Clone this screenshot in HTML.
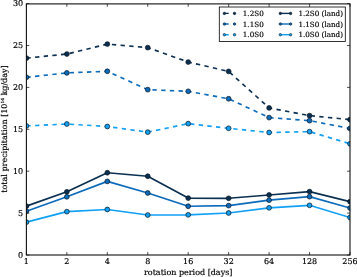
<!DOCTYPE html>
<html><head><meta charset="utf-8"><title>total precipitation vs rotation period</title>
<style>
html,body{margin:0;padding:0;background:#fff;}
body{width:357px;height:277px;overflow:hidden;}
svg{display:block;will-change:transform;opacity:0.999;}
text{font-family:"DejaVu Serif","Liberation Serif",serif;font-size:8.0px;fill:#000;stroke:#000;stroke-width:0.17px;text-rendering:geometricPrecision;}
</style></head><body>
<svg width="357" height="277" viewBox="0 0 357 277">
<rect width="357" height="277" fill="#fff"/>
<defs><clipPath id="ax"><rect x="26.4" y="3.6" width="323.6" height="251.4"/></clipPath></defs>

<g clip-path="url(#ax)">
<polyline points="26.40,58.14 66.85,54.03 107.30,44.10 147.75,47.63 188.20,62.05 228.65,71.40 269.10,107.92 309.55,115.64 350.00,119.62" fill="none" stroke="#0b3052" stroke-width="1.65" stroke-dasharray="4.345 4.345" stroke-linejoin="round"/>
<circle cx="26.40" cy="58.14" r="2.4" fill="#0b3052" stroke="#06121f" stroke-width="0.7"/>
<circle cx="66.85" cy="54.03" r="2.4" fill="#0b3052" stroke="#06121f" stroke-width="0.7"/>
<circle cx="107.30" cy="44.10" r="2.4" fill="#0b3052" stroke="#06121f" stroke-width="0.7"/>
<circle cx="147.75" cy="47.63" r="2.4" fill="#0b3052" stroke="#06121f" stroke-width="0.7"/>
<circle cx="188.20" cy="62.05" r="2.4" fill="#0b3052" stroke="#06121f" stroke-width="0.7"/>
<circle cx="228.65" cy="71.40" r="2.4" fill="#0b3052" stroke="#06121f" stroke-width="0.7"/>
<circle cx="269.10" cy="107.92" r="2.4" fill="#0b3052" stroke="#06121f" stroke-width="0.7"/>
<circle cx="309.55" cy="115.64" r="2.4" fill="#0b3052" stroke="#06121f" stroke-width="0.7"/>
<circle cx="350.00" cy="119.62" r="2.4" fill="#0b3052" stroke="#06121f" stroke-width="0.7"/>
<polyline points="26.40,77.32 66.85,72.91 107.30,71.27 147.75,89.65 188.20,91.32 228.65,98.77 269.10,117.61 309.55,120.65 350.00,128.46" fill="none" stroke="#0c6bbb" stroke-width="1.65" stroke-dasharray="4.345 4.345" stroke-linejoin="round"/>
<circle cx="26.40" cy="77.32" r="2.4" fill="#0c6bbb" stroke="#06121f" stroke-width="0.7"/>
<circle cx="66.85" cy="72.91" r="2.4" fill="#0c6bbb" stroke="#06121f" stroke-width="0.7"/>
<circle cx="107.30" cy="71.27" r="2.4" fill="#0c6bbb" stroke="#06121f" stroke-width="0.7"/>
<circle cx="147.75" cy="89.65" r="2.4" fill="#0c6bbb" stroke="#06121f" stroke-width="0.7"/>
<circle cx="188.20" cy="91.32" r="2.4" fill="#0c6bbb" stroke="#06121f" stroke-width="0.7"/>
<circle cx="228.65" cy="98.77" r="2.4" fill="#0c6bbb" stroke="#06121f" stroke-width="0.7"/>
<circle cx="269.10" cy="117.61" r="2.4" fill="#0c6bbb" stroke="#06121f" stroke-width="0.7"/>
<circle cx="309.55" cy="120.65" r="2.4" fill="#0c6bbb" stroke="#06121f" stroke-width="0.7"/>
<circle cx="350.00" cy="128.46" r="2.4" fill="#0c6bbb" stroke="#06121f" stroke-width="0.7"/>
<polyline points="26.40,125.96 66.85,124.02 107.30,126.50 147.75,132.15 188.20,123.64 228.65,128.31 269.10,132.48 309.55,131.65 350.00,143.81" fill="none" stroke="#12a0f5" stroke-width="1.65" stroke-dasharray="4.345 4.345" stroke-linejoin="round"/>
<circle cx="26.40" cy="125.96" r="2.4" fill="#12a0f5" stroke="#06121f" stroke-width="0.7"/>
<circle cx="66.85" cy="124.02" r="2.4" fill="#12a0f5" stroke="#06121f" stroke-width="0.7"/>
<circle cx="107.30" cy="126.50" r="2.4" fill="#12a0f5" stroke="#06121f" stroke-width="0.7"/>
<circle cx="147.75" cy="132.15" r="2.4" fill="#12a0f5" stroke="#06121f" stroke-width="0.7"/>
<circle cx="188.20" cy="123.64" r="2.4" fill="#12a0f5" stroke="#06121f" stroke-width="0.7"/>
<circle cx="228.65" cy="128.31" r="2.4" fill="#12a0f5" stroke="#06121f" stroke-width="0.7"/>
<circle cx="269.10" cy="132.48" r="2.4" fill="#12a0f5" stroke="#06121f" stroke-width="0.7"/>
<circle cx="309.55" cy="131.65" r="2.4" fill="#12a0f5" stroke="#06121f" stroke-width="0.7"/>
<circle cx="350.00" cy="143.81" r="2.4" fill="#12a0f5" stroke="#06121f" stroke-width="0.7"/>
<polyline points="26.40,206.15 66.85,191.80 107.30,172.74 147.75,176.23 188.20,198.10 228.65,198.30 269.10,194.96 309.55,191.62 350.00,201.68" fill="none" stroke="#0b3052" stroke-width="1.65" stroke-linejoin="round"/>
<circle cx="26.40" cy="206.15" r="2.4" fill="#0b3052" stroke="#06121f" stroke-width="0.7"/>
<circle cx="66.85" cy="191.80" r="2.4" fill="#0b3052" stroke="#06121f" stroke-width="0.7"/>
<circle cx="107.30" cy="172.74" r="2.4" fill="#0b3052" stroke="#06121f" stroke-width="0.7"/>
<circle cx="147.75" cy="176.23" r="2.4" fill="#0b3052" stroke="#06121f" stroke-width="0.7"/>
<circle cx="188.20" cy="198.10" r="2.4" fill="#0b3052" stroke="#06121f" stroke-width="0.7"/>
<circle cx="228.65" cy="198.30" r="2.4" fill="#0b3052" stroke="#06121f" stroke-width="0.7"/>
<circle cx="269.10" cy="194.96" r="2.4" fill="#0b3052" stroke="#06121f" stroke-width="0.7"/>
<circle cx="309.55" cy="191.62" r="2.4" fill="#0b3052" stroke="#06121f" stroke-width="0.7"/>
<circle cx="350.00" cy="201.68" r="2.4" fill="#0b3052" stroke="#06121f" stroke-width="0.7"/>
<polyline points="26.40,211.16 66.85,196.81 107.30,181.39 147.75,192.99 188.20,206.25 228.65,205.62 269.10,200.16 309.55,196.66 350.00,208.03" fill="none" stroke="#0c6bbb" stroke-width="1.65" stroke-linejoin="round"/>
<circle cx="26.40" cy="211.16" r="2.4" fill="#0c6bbb" stroke="#06121f" stroke-width="0.7"/>
<circle cx="66.85" cy="196.81" r="2.4" fill="#0c6bbb" stroke="#06121f" stroke-width="0.7"/>
<circle cx="107.30" cy="181.39" r="2.4" fill="#0c6bbb" stroke="#06121f" stroke-width="0.7"/>
<circle cx="147.75" cy="192.99" r="2.4" fill="#0c6bbb" stroke="#06121f" stroke-width="0.7"/>
<circle cx="188.20" cy="206.25" r="2.4" fill="#0c6bbb" stroke="#06121f" stroke-width="0.7"/>
<circle cx="228.65" cy="205.62" r="2.4" fill="#0c6bbb" stroke="#06121f" stroke-width="0.7"/>
<circle cx="269.10" cy="200.16" r="2.4" fill="#0c6bbb" stroke="#06121f" stroke-width="0.7"/>
<circle cx="309.55" cy="196.66" r="2.4" fill="#0c6bbb" stroke="#06121f" stroke-width="0.7"/>
<circle cx="350.00" cy="208.03" r="2.4" fill="#0c6bbb" stroke="#06121f" stroke-width="0.7"/>
<polyline points="26.40,222.17 66.85,211.66 107.30,209.49 147.75,215.04 188.20,214.84 228.65,212.98 269.10,207.82 309.55,205.32 350.00,217.51" fill="none" stroke="#12a0f5" stroke-width="1.65" stroke-linejoin="round"/>
<circle cx="26.40" cy="222.17" r="2.4" fill="#12a0f5" stroke="#06121f" stroke-width="0.7"/>
<circle cx="66.85" cy="211.66" r="2.4" fill="#12a0f5" stroke="#06121f" stroke-width="0.7"/>
<circle cx="107.30" cy="209.49" r="2.4" fill="#12a0f5" stroke="#06121f" stroke-width="0.7"/>
<circle cx="147.75" cy="215.04" r="2.4" fill="#12a0f5" stroke="#06121f" stroke-width="0.7"/>
<circle cx="188.20" cy="214.84" r="2.4" fill="#12a0f5" stroke="#06121f" stroke-width="0.7"/>
<circle cx="228.65" cy="212.98" r="2.4" fill="#12a0f5" stroke="#06121f" stroke-width="0.7"/>
<circle cx="269.10" cy="207.82" r="2.4" fill="#12a0f5" stroke="#06121f" stroke-width="0.7"/>
<circle cx="309.55" cy="205.32" r="2.4" fill="#12a0f5" stroke="#06121f" stroke-width="0.7"/>
<circle cx="350.00" cy="217.51" r="2.4" fill="#12a0f5" stroke="#06121f" stroke-width="0.7"/>
</g>
<rect x="26.4" y="3.9" width="323.6" height="251.1" fill="none" stroke="#111" stroke-width="1.1"/>
<path d="M26.40 255.0v-2.9M26.40 3.9v2.9M66.85 255.0v-2.9M66.85 3.9v2.9M107.30 255.0v-2.9M107.30 3.9v2.9M147.75 255.0v-2.9M147.75 3.9v2.9M188.20 255.0v-2.9M188.20 3.9v2.9M228.65 255.0v-2.9M228.65 3.9v2.9M269.10 255.0v-2.9M269.10 3.9v2.9M309.55 255.0v-2.9M309.55 3.9v2.9M350.00 255.0v-2.9M350.00 3.9v2.9M26.4 255.00h2.9M350.0 255.00h-2.9M26.4 213.10h2.9M350.0 213.10h-2.9M26.4 171.20h2.9M350.0 171.20h-2.9M26.4 129.30h2.9M350.0 129.30h-2.9M26.4 87.40h2.9M350.0 87.40h-2.9M26.4 45.50h2.9M350.0 45.50h-2.9M26.4 3.60h2.9M350.0 3.60h-2.9" stroke="#111" stroke-width="0.75" fill="none"/>
<text x="26.40" y="264.0" text-anchor="middle">1</text>
<text x="66.85" y="264.0" text-anchor="middle">2</text>
<text x="107.30" y="264.0" text-anchor="middle">4</text>
<text x="147.75" y="264.0" text-anchor="middle">8</text>
<text x="188.20" y="264.0" text-anchor="middle">16</text>
<text x="228.65" y="264.0" text-anchor="middle">32</text>
<text x="269.10" y="264.0" text-anchor="middle">64</text>
<text x="309.55" y="264.0" text-anchor="middle">128</text>
<text x="350.00" y="264.0" text-anchor="middle">256</text>
<text x="23.20" y="257.50" text-anchor="end">0</text>
<text x="23.20" y="215.60" text-anchor="end">5</text>
<text x="23.20" y="173.70" text-anchor="end">10</text>
<text x="23.20" y="131.80" text-anchor="end">15</text>
<text x="23.20" y="89.90" text-anchor="end">20</text>
<text x="23.20" y="48.00" text-anchor="end">25</text>
<text x="23.20" y="6.10" text-anchor="end">30</text>
<text x="188.20" y="275.0" text-anchor="middle">rotation period [days]</text>
<text transform="translate(7.3 129.00) rotate(-90)" text-anchor="middle">total precipitation [10<tspan style="font-size:4.3px" dy="-3.4">14</tspan><tspan dy="3.4"> kg/day]</tspan></text>
<rect x="219.3" y="7.0" width="126.0" height="34.5" fill="#fff" stroke="#000" stroke-width="0.8"/>
<line x1="224.35" y1="13.4" x2="234.55" y2="13.4" stroke="#0b3052" stroke-width="1.40" stroke-dasharray="4.345 4.345"/>
<circle cx="224.35" cy="13.4" r="1.25" fill="#0b3052" stroke="#06121f" stroke-width="0.55"/>
<circle cx="234.55" cy="13.4" r="1.25" fill="#0b3052" stroke="#06121f" stroke-width="0.55"/>
<text x="242.8" y="16.05" style="font-size:7.2px">1.2S0</text>
<line x1="280.3" y1="13.4" x2="290.6" y2="13.4" stroke="#0b3052" stroke-width="1.40"/>
<circle cx="280.3" cy="13.4" r="1.25" fill="#0b3052" stroke="#06121f" stroke-width="0.55"/>
<circle cx="290.6" cy="13.4" r="1.25" fill="#0b3052" stroke="#06121f" stroke-width="0.55"/>
<text x="298.4" y="16.05" style="font-size:7.2px">1.2S0 (land)</text>
<line x1="224.35" y1="24.0" x2="234.55" y2="24.0" stroke="#0c6bbb" stroke-width="1.40" stroke-dasharray="4.345 4.345"/>
<circle cx="224.35" cy="24.0" r="1.25" fill="#0c6bbb" stroke="#06121f" stroke-width="0.55"/>
<circle cx="234.55" cy="24.0" r="1.25" fill="#0c6bbb" stroke="#06121f" stroke-width="0.55"/>
<text x="242.8" y="26.65" style="font-size:7.2px">1.1S0</text>
<line x1="280.3" y1="24.0" x2="290.6" y2="24.0" stroke="#0c6bbb" stroke-width="1.40"/>
<circle cx="280.3" cy="24.0" r="1.25" fill="#0c6bbb" stroke="#06121f" stroke-width="0.55"/>
<circle cx="290.6" cy="24.0" r="1.25" fill="#0c6bbb" stroke="#06121f" stroke-width="0.55"/>
<text x="298.4" y="26.65" style="font-size:7.2px">1.1S0 (land)</text>
<line x1="224.35" y1="34.7" x2="234.55" y2="34.7" stroke="#12a0f5" stroke-width="1.40" stroke-dasharray="4.345 4.345"/>
<circle cx="224.35" cy="34.7" r="1.25" fill="#12a0f5" stroke="#06121f" stroke-width="0.55"/>
<circle cx="234.55" cy="34.7" r="1.25" fill="#12a0f5" stroke="#06121f" stroke-width="0.55"/>
<text x="242.8" y="37.35" style="font-size:7.2px">1.0S0</text>
<line x1="280.3" y1="34.7" x2="290.6" y2="34.7" stroke="#12a0f5" stroke-width="1.40"/>
<circle cx="280.3" cy="34.7" r="1.25" fill="#12a0f5" stroke="#06121f" stroke-width="0.55"/>
<circle cx="290.6" cy="34.7" r="1.25" fill="#12a0f5" stroke="#06121f" stroke-width="0.55"/>
<text x="298.4" y="37.35" style="font-size:7.2px">1.0S0 (land)</text>
</svg></body></html>
